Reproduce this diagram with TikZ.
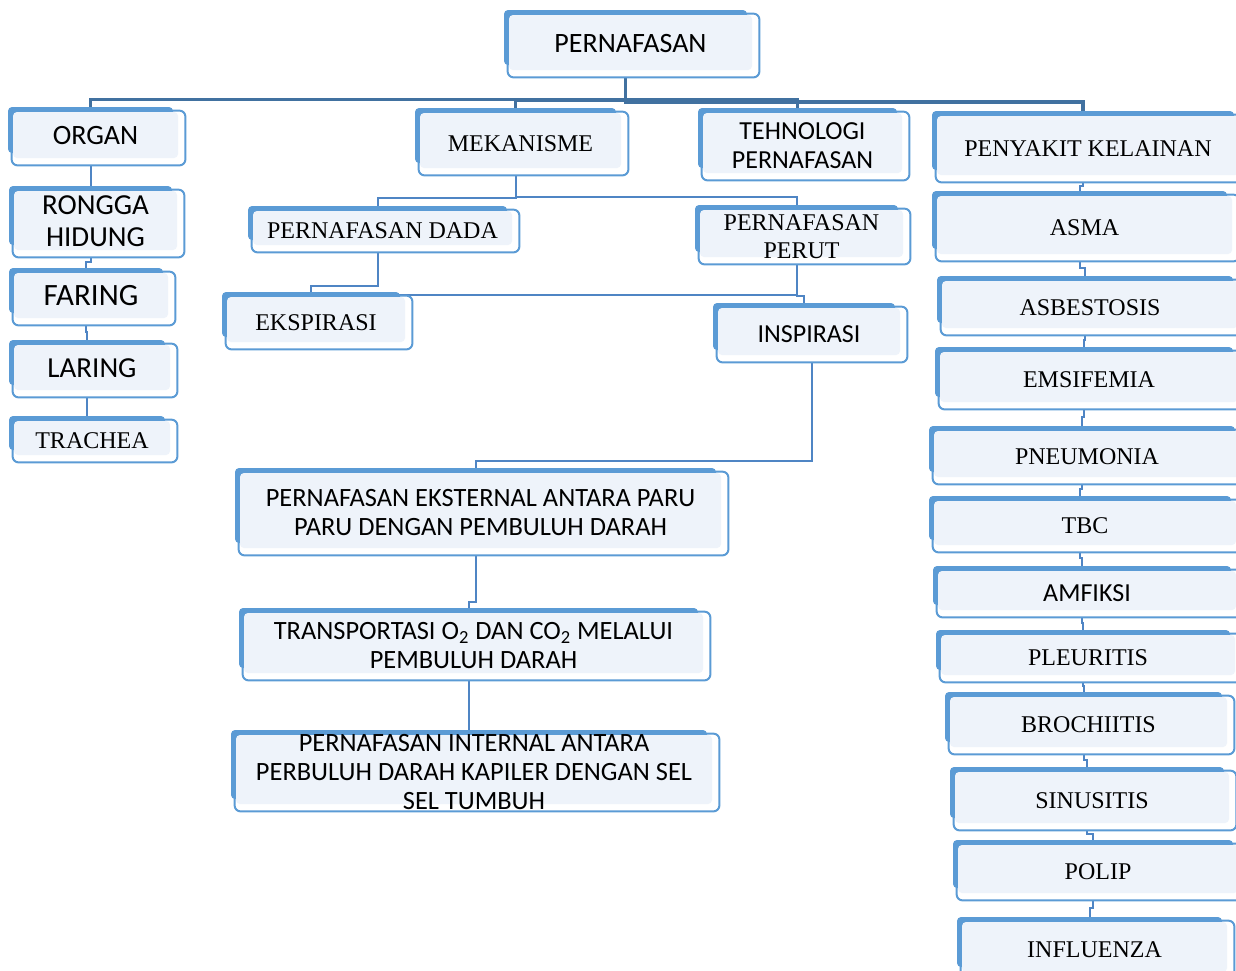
\documentclass[tikz,border=0pt]{standalone}
\usepackage{fontspec}
\setmainfont{Liberation Serif}
\newfontfamily\calib{Carlito}
\usetikzlibrary{calc, backgrounds}

\definecolor{boxfill}{RGB}{238,243,250}
\definecolor{boxback}{RGB}{91,155,213}
\definecolor{boxline}{RGB}{91,155,213}
\definecolor{lineblue}{RGB}{79,133,196}
\definecolor{busblue}{RGB}{65,113,160}

\newcommand{\lbl}[1]{\smash{\raisebox{-5.5pt}{\begin{tabular}{@{}c@{}}#1\end{tabular}}}}

\tikzset{
  box/.style={rounded corners=2pt, fill=boxfill, inner sep=0pt,
    preaction={fill=boxback, transform canvas={shift={(-2.5pt,2.5pt)}}}},
  outline/.style={draw=boxline, line width=1pt, fill=white, rounded corners=3pt},
  sanstext/.style={font=\calib\fontsize{#1}{14.5}\selectfont},
  sanstext/.default=13,
  seriftext/.style={font=\fontsize{12}{14}\selectfont},
  conn/.style={draw=lineblue, line width=1pt, transform canvas={xshift=-2.5pt}},
  rootconn/.style={draw=busblue, line width=1.6pt},
  vhv/.style={to path={|- ($(\tikztostart)!#1!(\tikztotarget)$) -| (\tikztotarget)}},
  vhv/.default=0.5
}

\begin{document}
\begin{tikzpicture}[x=0.5pt, y=-0.5pt]
\useasboundingbox (0,0) rectangle (1236,970);

% puncak
\node[box, sanstext=14, minimum width=121.5pt, minimum height=27.5pt] (root) at (630.5,42.5) {\lbl{PERNAFASAN}};

% organ
\node[box, sanstext=14, minimum width=82.5pt, minimum height=23pt] (organ) at (95.5,135) {\lbl{ORGAN}};
\node[box, font=\calib\fontsize{14.5}{16}\selectfont, minimum width=81.5pt, minimum height=29.5pt] (rongga) at (95.5,220.5) {\lbl{RONGGA\\HIDUNG}};
\node[box, sanstext=15.5, minimum width=77pt, minimum height=22.5pt] (faring) at (91,295.5) {\lbl{FARING}};
\node[box, sanstext=14.5, minimum width=78pt, minimum height=22.5pt] (laring) at (92,367.5) {\lbl{LARING}};
\node[box, seriftext, minimum width=78pt, minimum height=17pt] (trachea) at (92,438) {\lbl{TRACHEA}};

% mekanisme
\node[box, seriftext, minimum width=100.5pt, minimum height=27.5pt] (mekanisme) at (520.5,140.5) {\lbl{MEKANISME}};
\node[box, seriftext, minimum width=129.5pt, minimum height=17pt] (dada) at (382.5,228) {\lbl{PERNAFASAN DADA}};
\node[box, seriftext, minimum width=101.5pt, minimum height=23.5pt] (perut) at (801.5,233.5) {\lbl{PERNAFASAN\\PERUT}};
\node[box, seriftext, minimum width=89pt, minimum height=22.5pt] (ekspirasi) at (316,319.5) {\lbl{EKSPIRASI}};
\node[box, sanstext, minimum width=91pt, minimum height=23.5pt] (inspirasi) at (809,331.5) {\lbl{INSPIRASI}};
\node[box, sanstext=13.2, minimum width=240.5pt, minimum height=37.5pt] (eksternal) at (480.5,510.5) {\lbl{PERNAFASAN EKSTERNAL ANTARA PARU\\PARU DENGAN PEMBULUH DARAH}};
\node[box, sanstext=13.2, minimum width=229.5pt, minimum height=30pt] (transport) at (473.5,643) {\lbl{TRANSPORTASI O\textsubscript{2} DAN CO\textsubscript{2} MELALUI\\PEMBULUH DARAH}};
\node[box, sanstext=13.2, minimum width=238pt, minimum height=34.5pt] (internal) at (474,769.5) {\lbl{PERNAFASAN INTERNAL ANTARA\\PERBULUH DARAH KAPILER DENGAN SEL\\SEL TUMBUH}};

% tehnologi
\node[box, sanstext, minimum width=99.5pt, minimum height=30pt] (tehnologi) at (802.5,143) {\lbl{TEHNOLOGI\\PERNAFASAN}};

% penyakit
\node[box, seriftext, minimum width=151pt, minimum height=29.5pt] (penyakit) at (1088,145.5) {\lbl{PENYAKIT KELAINAN}};
\node[box, seriftext, minimum width=147.5pt, minimum height=29pt] (asma) at (1084.5,225) {\lbl{ASMA}};
\node[box, seriftext, minimum width=148pt, minimum height=23.5pt] (asbestosis) at (1090,304.5) {\lbl{ASBESTOSIS}};
\node[box, seriftext, minimum width=149pt, minimum height=25pt] (emsifemia) at (1089,377) {\lbl{EMSIFEMIA}};
\node[box, seriftext, minimum width=153pt, minimum height=23pt] (pneumonia) at (1087,454) {\lbl{PNEUMONIA}};
\node[box, seriftext, minimum width=151pt, minimum height=22pt] (tbc) at (1085,523) {\lbl{TBC}};
\node[box, sanstext, minimum width=149pt, minimum height=19.5pt] (amfiksi) at (1087,590.5) {\lbl{AMFIKSI}};
\node[box, seriftext, minimum width=147pt, minimum height=20pt] (pleuritis) at (1088,655) {\lbl{PLEURITIS}};
\node[box, seriftext, minimum width=138.5pt, minimum height=25pt] (brochiitis) at (1088.5,722) {\lbl{BROCHIITIS}};
\node[box, seriftext, minimum width=137pt, minimum height=25.5pt] (sinusitis) at (1092,797.5) {\lbl{SINUSITIS}};
\node[box, seriftext, minimum width=140pt, minimum height=24pt] (polip) at (1098,869) {\lbl{POLIP}};
\node[box, seriftext, minimum width=132.5pt, minimum height=25pt] (influenza) at (1094.5,947) {\lbl{INFLUENZA}};

\begin{pgfonlayer}{background}
  % garis penghubung
  \foreach \c in {organ, mekanisme, tehnologi, penyakit}
    \draw[conn, rootconn] (root.south) to[vhv=0.7] (\c.north);
  \foreach \a/\b in {organ/rongga, rongga/faring, faring/laring, laring/trachea}
    \draw[conn] (\a.south) to[vhv] (\b.north);
  \foreach \a/\b in {penyakit/asma, asma/asbestosis, asbestosis/emsifemia, emsifemia/pneumonia,
      pneumonia/tbc, tbc/amfiksi, amfiksi/pleuritis, pleuritis/brochiitis, brochiitis/sinusitis,
      sinusitis/polip, polip/influenza}
    \draw[conn] (\a.south) to[vhv] (\b.north);
  \draw[conn] (mekanisme.south) to[vhv=0.7] (dada.north);
  \draw[conn] (mekanisme.south) to[vhv=0.7] (perut.north);
  \draw[conn] (dada.south) to[vhv=0.8] (ekspirasi.north);
  \draw[conn] (perut.south) to[vhv=0.97] (ekspirasi.north);
  \draw[conn] (perut.south) to[vhv=0.77] (inspirasi.north);
  \draw[conn] ([xshift=4pt]inspirasi.south) to[vhv=0.9] (eksternal.north);
  \draw[conn] (eksternal.south) to[vhv=0.83] (transport.north);
  \draw[conn] (transport.south) to[vhv] (internal.north);
  % bingkai luar
  \foreach \n in {root, organ, rongga, faring, laring, trachea, mekanisme, dada, perut,
      ekspirasi, inspirasi, eksternal, transport, internal, tehnologi, penyakit, asma,
      asbestosis, emsifemia, pneumonia, tbc, amfiksi, pleuritis, brochiitis, sinusitis,
      polip, influenza}
    \draw[outline] ([shift={(-1,-1)}]\n.north west) rectangle ([shift={(7,7)}]\n.south east);
\end{pgfonlayer}
\end{tikzpicture}
\end{document}
